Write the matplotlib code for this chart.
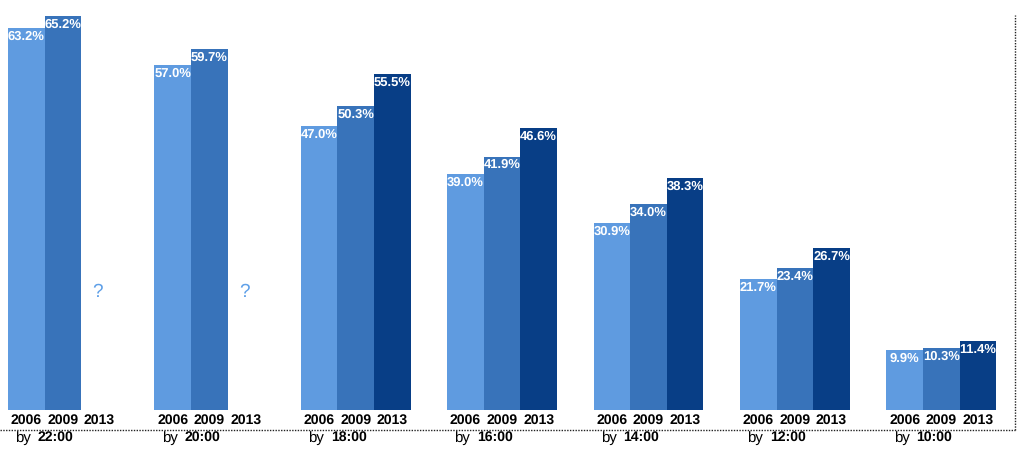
import matplotlib
matplotlib.use("Agg")
import matplotlib.pyplot as plt
import numpy as np

plt.rcParams['font.family'] = ['Liberation Sans', 'DejaVu Sans']
plt.rcParams['text.hinting'] = 'no_hinting'
plt.rcParams['text.hinting_factor'] = 1

groups = ["22:00", "20:00", "18:00", "16:00", "14:00", "12:00", "10:00"]
years = ["2006", "2009", "2013"]
v2006 = [63.2, 57.0, 47.0, 39.0, 30.9, 21.7, 9.9]
v2009 = [65.2, 59.7, 50.3, 41.9, 34.0, 23.4, 10.3]
v2013 = [None, None, 55.5, 46.6, 38.3, 26.7, 11.4]
series = [v2006, v2009, v2013]
colors = ["#5f9be0", "#3873ba", "#083e86"]

W, H = 1024, 449
fig = plt.figure(figsize=(W / 100, H / 100), dpi=100)
ax = fig.add_axes([0, 0, 1, 1])
px_bar = 36.6      # pixels per x unit
px_pct = 6.05      # pixels per percent
x0_px = 8
base_px = 410
ax.set_xlim(-x0_px / px_bar, (W - x0_px) / px_bar)
ax.set_ylim(-(H - base_px) / px_pct, base_px / px_pct)
ax.axis('off')

GSP = 4.0
for gi, g in enumerate(groups):
    gx = gi * GSP
    for si, s in enumerate(series):
        x = gx + si
        v = s[gi]
        if v is None:
            ax.text(x + 0.45, 19.5, "?", color="#5fa0e8", fontsize=14,
                    ha='center', va='center')
        else:
            ax.bar(x, v, width=1.0, align='edge', color=colors[si], linewidth=0)
            ax.text(x + 0.5, v - 8.5 / px_pct, f"{v:.1f}%", color="white",
                    fontsize=9.6, fontweight='bold', ha='center', va='center')
        ax.text(x + 0.5, -10 / px_pct, years[si], color="black", fontsize=10,
                fontweight='bold', ha='center', va='center')
    ax.text(gx + 0.2, -28.5 / px_pct, "by", color="black", fontsize=10.5,
            ha='left', va='center')
    ax.text(gx + 0.82, -27.5 / px_pct, g, color="black", fontsize=10,
            fontweight='bold', ha='left', va='center')

# dotted frame lines
right_x = (1015 - x0_px) / px_bar
bottom_y = -(429.5 - base_px) / px_pct
ax.plot([ax.get_xlim()[0], right_x], [bottom_y, bottom_y], color="#222222",
        linewidth=1.0, linestyle=(0, (1, 1)))
ax.plot([right_x, right_x], [bottom_y, (base_px - 15) / px_pct], color="#222222",
        linewidth=1.0, linestyle=(0, (1, 1)))

fig.savefig("out.png", dpi=100)
